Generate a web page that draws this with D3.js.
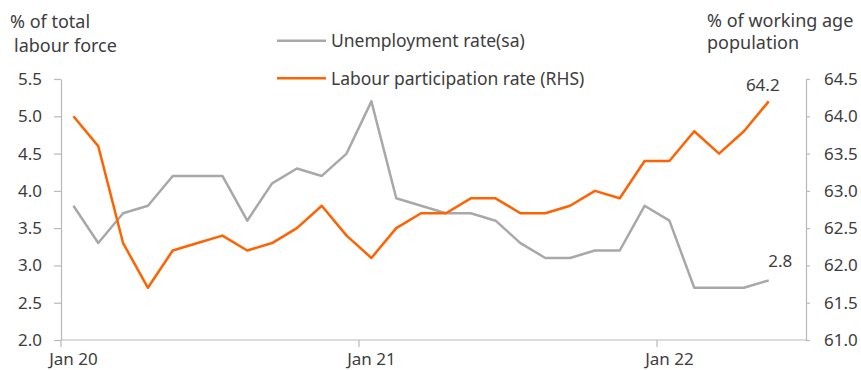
<!DOCTYPE html>
<html>
<head>
<meta charset="utf-8">
<script src="https://cdn.jsdelivr.net/npm/d3@7"></script>
<style>
  html, body { margin: 0; padding: 0; background: #fff; }
  svg { display: block; font-family: "Noto Sans", "Open Sans", sans-serif; }
  text { fill: #3d3d3d; }
</style>
</head>
<body>
<svg id="chart" width="861" height="370"></svg>
<script>
// Monthly periods on the x axis (last month left open)
const months = [
  "Jan 20","Feb 20","Mar 20","Apr 20","May 20","Jun 20","Jul 20","Aug 20","Sep 20","Oct 20","Nov 20","Dec 20",
  "Jan 21","Feb 21","Mar 21","Apr 21","May 21","Jun 21","Jul 21","Aug 21","Sep 21","Oct 21","Nov 21","Dec 21",
  "Jan 22","Feb 22","Mar 22","Apr 22","May 22","Jun 22"
];
// Unemployment rate, seasonally adjusted (% of total labour force)
const unemployment = [
  3.8, 3.3, 3.7, 3.8, 4.2, 4.2, 4.2, 3.6, 4.1, 4.3, 4.2, 4.5,
  5.2, 3.9, 3.8, 3.7, 3.7, 3.6, 3.3, 3.1, 3.1, 3.2, 3.2, 3.8,
  3.6, 2.7, 2.7, 2.7, 2.8
];
// Labour participation rate (% of working age population, right axis)
const participation = [
  64.0, 63.6, 62.3, 61.7, 62.2, 62.3, 62.4, 62.2, 62.3, 62.5, 62.8, 62.4,
  62.1, 62.5, 62.7, 62.7, 62.9, 62.9, 62.7, 62.7, 62.8, 63.0, 62.9, 63.4,
  63.4, 63.8, 63.5, 63.8, 64.2
];
const xTickLabels = ["Jan 20", "Jan 21", "Jan 22"];
const leftTicks = [2.0, 2.5, 3.0, 3.5, 4.0, 4.5, 5.0, 5.5];
const rightTicks = [61.0, 61.5, 62.0, 62.5, 63.0, 63.5, 64.0, 64.5];
const seriesNames = ["Unemployment rate(sa)", "Labour participation rate (RHS)"];

const ORANGE = "#ff6200";
const GREY = "#a8a8a8";
const AXIS = "#b9b9b9";
const FONT = 17;

const svg = d3.select("#chart");
const plotLeft = 61, plotRight = 806, plotTop = 79, plotBottom = 340;

const x = d3.scaleBand().domain(months).range([plotLeft, plotRight]).padding(0);
const cx = m => x(m) + x.bandwidth() / 2;
const yL = d3.scaleLinear().domain([2.0, 5.5]).range([plotBottom, plotTop]);
const yR = d3.scaleLinear().domain([61.0, 64.5]).range([plotBottom, plotTop]);

// Left axis
const gL = svg.append("g").attr("transform", `translate(${plotLeft},0)`)
  .call(d3.axisLeft(yL).tickValues(leftTicks).tickFormat(d3.format(".1f")).tickSize(7).tickPadding(12).tickSizeOuter(0));
// Right axis
const gR = svg.append("g").attr("transform", `translate(${plotRight},0)`)
  .call(d3.axisRight(yR).tickValues(rightTicks).tickFormat(d3.format(".1f")).tickSize(4).tickPadding(14).tickSizeOuter(0));
// Bottom axis: ticks at the start of each January, labels centred on the month
const gB = svg.append("g").attr("transform", `translate(0,${plotBottom})`);
gB.append("line").attr("x1", plotLeft).attr("x2", plotRight).attr("y1", 0).attr("y2", 0);
gB.selectAll("line.tick").data(xTickLabels).join("line").attr("class", "tick")
  .attr("x1", d => x(d)).attr("x2", d => x(d)).attr("y1", 0).attr("y2", 7);
gB.selectAll("text").data(xTickLabels).join("text")
  .attr("x", d => cx(d)).attr("y", 25).attr("text-anchor", "middle").text(d => d);

[gL, gR].forEach(g => {
  g.select(".domain").attr("stroke", AXIS).attr("stroke-width", 1.2);
  g.selectAll(".tick line").attr("stroke", AXIS).attr("stroke-width", 1.2);
  g.selectAll(".tick text").attr("font-size", FONT).attr("font-family", "Noto Sans").style("fill", "#3d3d3d");
});
gB.selectAll("line").attr("stroke", AXIS).attr("stroke-width", 1.2);
gB.selectAll("text").attr("font-size", FONT);

// Series lines
const lineL = d3.line().x((d, i) => cx(months[i])).y(d => yL(d));
const lineR = d3.line().x((d, i) => cx(months[i])).y(d => yR(d));
svg.append("path").datum(unemployment).attr("d", lineL)
  .attr("fill", "none").attr("stroke", GREY).attr("stroke-width", 2.5).attr("stroke-linejoin", "round");
svg.append("path").datum(participation).attr("d", lineR)
  .attr("fill", "none").attr("stroke", ORANGE).attr("stroke-width", 2.5).attr("stroke-linejoin", "round");

// End-point value labels
const lastU = unemployment.length - 1, lastP = participation.length - 1;
svg.append("text").attr("x", cx(months[lastP]) - 6).attr("y", yR(participation[lastP]) - 10)
  .attr("text-anchor", "middle").attr("font-size", FONT).text(participation[lastP].toFixed(1));
svg.append("text").attr("x", cx(months[lastU]) + 11.5).attr("y", yL(unemployment[lastU]) - 13.5)
  .attr("text-anchor", "middle").attr("font-size", FONT).text(unemployment[lastU].toFixed(1));

// Legend
const legend = svg.append("g");
[[GREY, 40.7], [ORANGE, 78.3]].forEach(([c, ly], i) => {
  legend.append("line").attr("x1", 277).attr("x2", 326).attr("y1", ly).attr("y2", ly)
    .attr("stroke", c).attr("stroke-width", 2.5);
  legend.append("text").attr("x", 331).attr("y", ly + 6.2).attr("font-size", 17.5).text(seriesNames[i]);
});

// Axis titles
svg.append("text").attr("x", 10).attr("y", 28).attr("font-size", 18).text("% of total");
svg.append("text").attr("x", 14).attr("y", 52).attr("font-size", 18).text("labour force");
svg.append("text").attr("x", 707).attr("y", 27).attr("font-size", 18).text("% of working age");
svg.append("text").attr("x", 707).attr("y", 49).attr("font-size", 18).text("population");
</script>
</body>
</html>
